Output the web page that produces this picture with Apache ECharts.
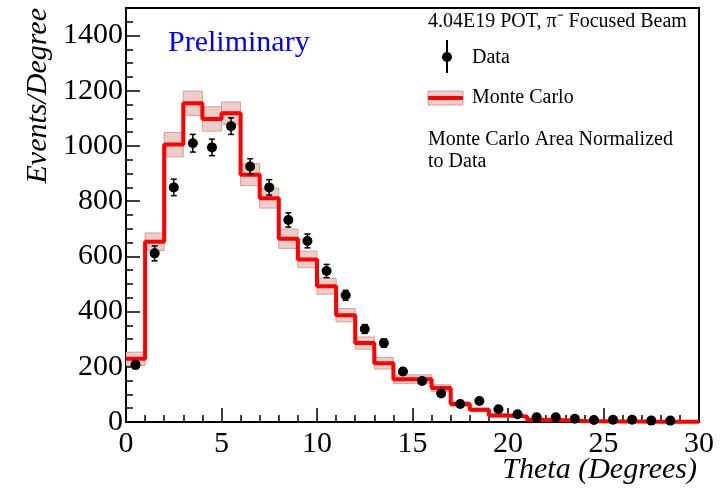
<!DOCTYPE html>
<html lang="en">
<head>
<meta charset="utf-8">
<style>
  html, body { margin: 0; background: #fff; }
  #container { width: 726px; height: 489px; }
</style>
</head>
<body>
<div id="container"></div>
<script src="https://cdn.jsdelivr.net/npm/echarts@6.0.0/dist/echarts.min.js"></script>
<script>
// histogram bins, 1 degree wide (low edges)
var binLow = [0, 1, 2, 3, 4, 5, 6, 7, 8, 9, 10, 11, 12, 13, 14, 15, 16, 17, 18, 19, 20, 21, 22, 23, 24, 25, 26, 27, 28, 29];
// Monte Carlo (area normalized) and its band half-width
var mcValues = [229, 653, 1005, 1155, 1098, 1119, 896, 811, 664, 589, 492, 387, 286, 213, 155, 155, 123, 65, 44, 24, 20, 8, 6, 4, 3, 2, 2, 1, 1, 1];
var mcErr = [24, 32, 44, 44, 44, 40, 40, 36, 35, 30, 29, 24, 22, 21, 16, 16, 12, 8, 6, 5, 4, 3, 2, 2, 1, 1, 1, 1, 1, 1];
// data points
var dataX = [0.5, 1.5, 2.5, 3.5, 4.5, 5.5, 6.5, 7.5, 8.5, 9.5, 10.5, 11.5, 12.5, 13.5, 14.5, 15.5, 16.5, 17.5, 18.5, 19.5, 20.5, 21.5, 22.5, 23.5, 24.5, 25.5, 26.5, 27.5, 28.5];
var dataY = [207, 611, 850, 1010, 995, 1072, 926, 850, 732, 656, 547, 459, 337, 286, 183, 149, 103, 65, 76, 46, 28, 17, 17, 12, 7, 8, 8, 5, 5];
var dataErr = [14, 27, 30, 32, 30, 30, 28, 28, 26, 25, 24, 18, 16, 15, 12, 10, 9, 7, 8, 6, 5, 4, 4, 3, 2, 3, 3, 2, 2];

var serif = 'Liberation Serif';
var bandFill = '#ebcdc9';
var bandStroke = '#d4a09a';

var chart = echarts.init(document.getElementById('container'));

var bandData = binLow.map(function (x, i) {
  return [x, x + 1, mcValues[i] - mcErr[i], mcValues[i] + mcErr[i]];
});
var stepData = binLow.map(function (x, i) { return [x, mcValues[i]]; });
stepData.push([30, mcValues[mcValues.length - 1]]);
var errData = dataX.map(function (x, i) { return [x, dataY[i] - dataErr[i], dataY[i] + dataErr[i]]; });
var pointData = dataX.map(function (x, i) { return [x, dataY[i]]; });

var option = {
  animation: false,
  grid: { left: 126, right: 27, top: 8, bottom: 67, show: true, borderColor: '#000', borderWidth: 2, backgroundColor: 'transparent' },
  xAxis: {
    type: 'value', min: 0, max: 30, interval: 5,
    axisLine: { show: true, lineStyle: { color: '#000', width: 2 } },
    axisTick: { show: true, inside: true, length: 14, lineStyle: { color: '#000', width: 1.5 } },
    minorTick: { show: true, splitNumber: 5, length: 7, lineStyle: { color: '#000', width: 1.5 } },
    splitLine: { show: false },
    axisLabel: { color: '#000', fontFamily: serif, fontSize: 30, margin: 7 }
  },
  yAxis: {
    type: 'value', min: 0, max: 1500, interval: 200,
    axisLine: { show: true, lineStyle: { color: '#000', width: 2 } },
    axisTick: { show: true, inside: true, length: 14, lineStyle: { color: '#000', width: 1.5 } },
    minorTick: { show: true, splitNumber: 4, length: 7, lineStyle: { color: '#000', width: 1.5 } },
    splitLine: { show: false },
    axisLabel: { color: '#000', fontFamily: serif, fontSize: 30, margin: 3, showMaxLabel: false,
      formatter: function (v) { return String(v); } }
  },
  series: [
    {
      type: 'custom',
      name: 'band',
      data: bandData,
      encode: { x: [0, 1], y: [2, 3] },
      clip: true,
      z: 1,
      renderItem: function (params, api) {
        var p1 = api.coord([api.value(0), api.value(3)]);
        var p2 = api.coord([api.value(1), api.value(2)]);
        return {
          type: 'rect',
          shape: { x: p1[0], y: p1[1], width: p2[0] - p1[0], height: p2[1] - p1[1] },
          style: { fill: bandFill, stroke: bandStroke, lineWidth: 1 }
        };
      }
    },
    {
      type: 'line',
      name: 'Monte Carlo',
      data: stepData,
      step: 'end',
      showSymbol: false,
      symbol: 'none',
      z: 2,
      lineStyle: { color: '#ff0000', width: 4 }
    },
    {
      type: 'custom',
      name: 'errors',
      data: errData,
      encode: { x: 0, y: [1, 2] },
      z: 3,
      renderItem: function (params, api) {
        var lo = api.coord([api.value(0), api.value(1)]);
        var hi = api.coord([api.value(0), api.value(2)]);
        var c = 3;
        return {
          type: 'group',
          children: [
            { type: 'line', shape: { x1: lo[0], y1: lo[1], x2: hi[0], y2: hi[1] }, style: { stroke: '#000', lineWidth: 1.5 } },
            { type: 'line', shape: { x1: lo[0] - c, y1: lo[1], x2: lo[0] + c, y2: lo[1] }, style: { stroke: '#000', lineWidth: 1.5 } },
            { type: 'line', shape: { x1: hi[0] - c, y1: hi[1], x2: hi[0] + c, y2: hi[1] }, style: { stroke: '#000', lineWidth: 1.5 } }
          ]
        };
      }
    },
    {
      type: 'scatter',
      name: 'Data',
      data: pointData,
      symbol: 'circle',
      symbolSize: 10,
      z: 4,
      itemStyle: { color: '#000', opacity: 1 }
    }
  ],
  graphic: [
    { type: 'text', x: 38, y: 8, rotation: Math.PI / 2,
      style: { text: 'Events/Degree', fill: '#000', font: 'italic 30px "Liberation Serif"', textAlign: 'right', textVerticalAlign: 'middle' } },
    { type: 'text', x: 697, y: 470,
      style: { text: 'Theta (Degrees)', fill: '#000', font: 'italic 30px "Liberation Serif"', textAlign: 'right', textVerticalAlign: 'middle' } },
    { type: 'text', x: 168, y: 43,
      style: { text: 'Preliminary', fill: '#0000ff', font: '30px "Liberation Serif"', textAlign: 'left', textVerticalAlign: 'middle' } },
    { type: 'text', x: 428, y: 22,
      style: { text: '4.04E19 POT, \u03c0\u207b Focused Beam', fill: '#000', font: '20px "Liberation Serif"', textAlign: 'left', textVerticalAlign: 'middle' } },
    // legend: data marker
    { type: 'line', shape: { x1: 447, y1: 40, x2: 447, y2: 73 }, style: { stroke: '#000', lineWidth: 2 } },
    { type: 'circle', shape: { cx: 447, cy: 57, r: 5 }, style: { fill: '#000' } },
    { type: 'text', x: 472, y: 58,
      style: { text: 'Data', fill: '#000', font: '20px "Liberation Serif"', textAlign: 'left', textVerticalAlign: 'middle' } },
    // legend: Monte Carlo
    { type: 'rect', shape: { x: 428, y: 91, width: 35, height: 14 }, style: { fill: bandFill, stroke: bandStroke, lineWidth: 1 } },
    { type: 'line', shape: { x1: 428, y1: 98, x2: 463, y2: 98 }, style: { stroke: '#ff0000', lineWidth: 4 } },
    { type: 'text', x: 472, y: 98,
      style: { text: 'Monte Carlo', fill: '#000', font: '20px "Liberation Serif"', textAlign: 'left', textVerticalAlign: 'middle' } },
    { type: 'text', x: 428, y: 140,
      style: { text: 'Monte Carlo Area Normalized', fill: '#000', font: '20px "Liberation Serif"', textAlign: 'left', textVerticalAlign: 'middle' } },
    { type: 'text', x: 428, y: 162,
      style: { text: 'to Data', fill: '#000', font: '20px "Liberation Serif"', textAlign: 'left', textVerticalAlign: 'middle' } }
  ]
};

chart.setOption(option);
window.addEventListener('resize', chart.resize);
</script>
</body>
</html>
